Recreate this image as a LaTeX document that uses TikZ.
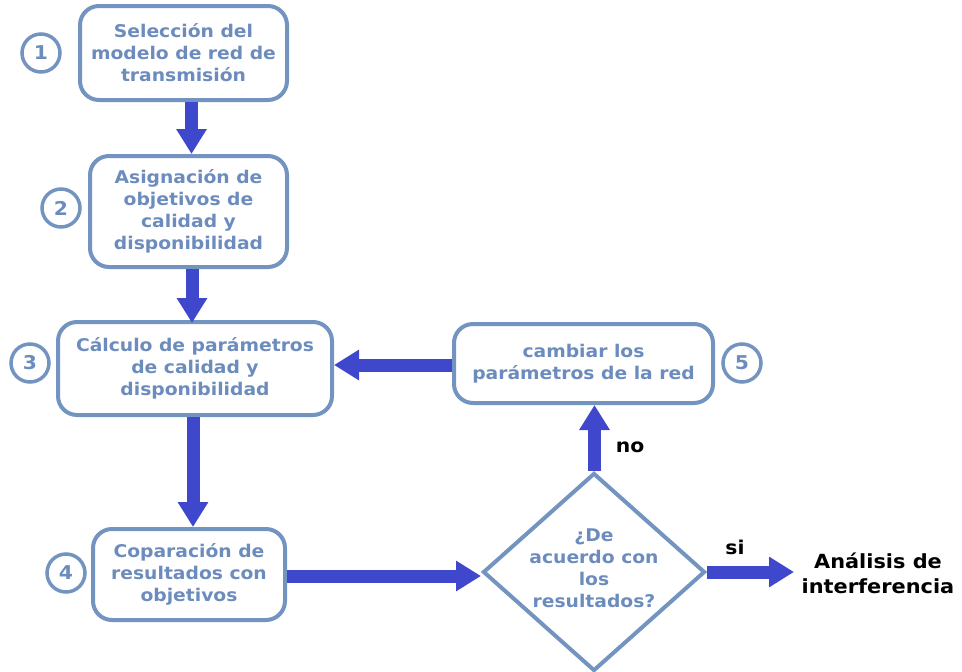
\documentclass[tikz,border=0pt]{standalone}
\usepackage{fontspec}
\setmainfont{DejaVu Sans}[FakeStretch=1.07]
\usetikzlibrary{arrows.meta,shapes.geometric}
\definecolor{boxline}{RGB}{115,148,192}
\definecolor{boxtext}{RGB}{108,140,190}
\definecolor{arrowblue}{RGB}{63,72,204}
\tikzset{
  stepbox/.style={draw=boxline, line width=4pt, rounded corners=19pt, fill=white,
    align=center, text=boxtext, font=\bfseries\fontsize{17.5}{22}\selectfont, inner sep=0pt},
  numcirc/.style={circle, draw=boxline, line width=3.5pt, minimum size=38pt, inner sep=0pt,
    text=boxtext, font=\bfseries\fontsize{19}{20}\selectfont},
  arr/.style={draw=arrowblue, line width=13pt, -{Triangle[width=29pt,length=25pt]}},
  lbl/.style={font=\bfseries\fontsize{19}{20}\selectfont, text=black},
}
\begin{document}
\begin{tikzpicture}[x=1pt,y=-1pt]
\useasboundingbox (0,0) rectangle (962,672);
% boxes
\node[stepbox, minimum width=207pt, minimum height=94pt] (b1) at (183.5,53)
  {Selección del\\modelo de red de\\transmisión};
\node[stepbox, minimum width=197pt, minimum height=111pt] (b2) at (188.5,211.5)
  {Asignación de\\objetivos de\\calidad y\\disponibilidad};
\node[stepbox, minimum width=274pt, minimum height=93pt] (b3) at (195,368.5)
  {Cálculo de parámetros\\de calidad y\\disponibilidad};
\node[stepbox, minimum width=192pt, minimum height=91pt] (b4) at (189,574.5)
  {Coparación de\\resultados con\\objetivos};
\node[stepbox, minimum width=259pt, minimum height=79pt] (b5) at (583.5,363.5)
  {cambiar los\\parámetros de la red};
% decision
\node[diamond, draw=boxline, line width=4pt, minimum width=222pt, minimum height=198pt, inner sep=0pt] (d) at (594,572) {};
\node[align=center, text=boxtext, font=\bfseries\fontsize{17.5}{22}\selectfont] (dt) at (594,568)
  {¿De\\acuerdo con\\los\\resultados?};
% result
\node[lbl, align=center, font=\bfseries\fontsize{19.5}{25}\selectfont] (res) at (878,573) {Análisis de\\interferencia};
% circles
\node[numcirc] (c1) at (41,53) {1};
\node[numcirc] (c2) at (61,208) {2};
\node[numcirc] (c3) at (30,363) {3};
\node[numcirc] (c4) at (66,573) {4};
\node[numcirc] (c5) at (742,363) {5};
% arrows
\draw[arr] ([xshift=8pt]b1.south) -- ([xshift=8pt]b1.south |- b2.north);
\draw[arr] ([xshift=3.5pt]b2.south) -- ([xshift=3.5pt,yshift=-3pt]b2.south |- b3.north);
\draw[arr] ([xshift=-2pt]b3.south) -- ([xshift=-2pt]b3.south |- b4.north);
\draw[arr] ([yshift=-1.5pt]b4.east) -- ([yshift=-1.5pt]b4.east -| d.west);
\draw[arr] (d.east) -- ([xshift=87pt]d.east) coordinate (resin);
\draw[arr] ([xshift=0.5pt]d.north) -- ([xshift=0.5pt]d.north |- b5.south);
\draw[arr] ([yshift=-1.5pt]b5.west) -- ([yshift=-1.5pt]b5.west -| b3.east);
% labels
\node[lbl] (si) at (735,547) {si};
\node[lbl] (no) at (630,447) {no};
\end{tikzpicture}
\end{document}
